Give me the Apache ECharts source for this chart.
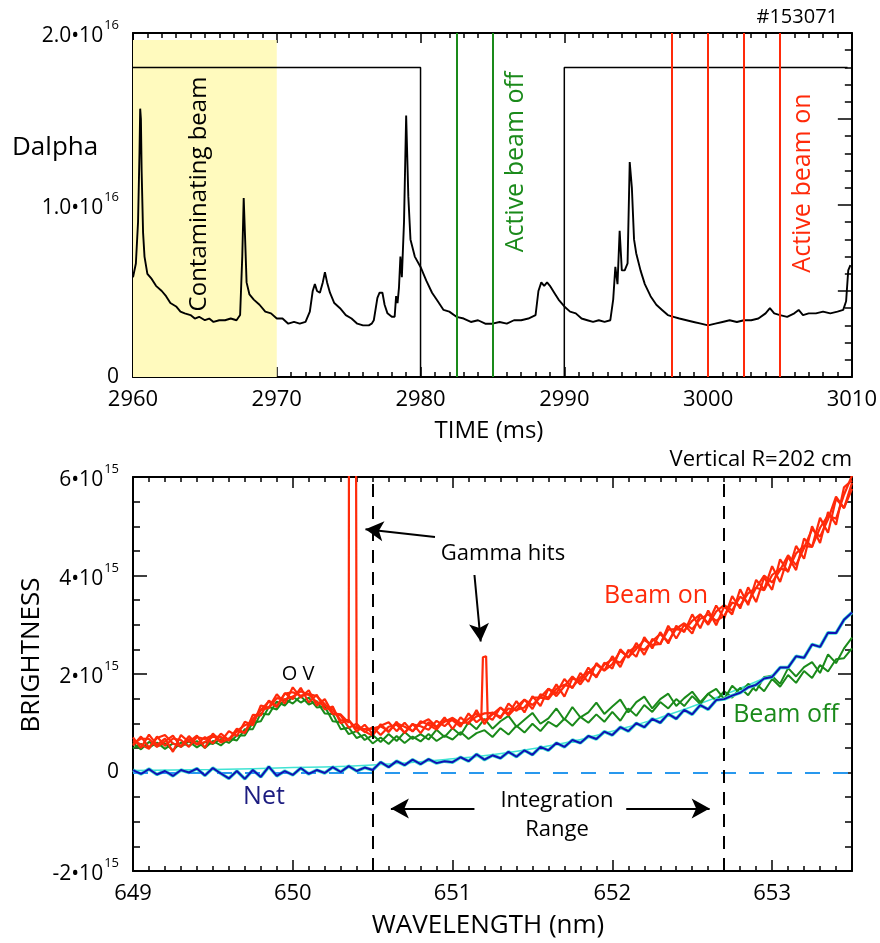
<!DOCTYPE html>
<html>
<head>
<meta charset="utf-8">
<script src="https://cdn.jsdelivr.net/npm/echarts@6/dist/echarts.min.js"></script>
<style>
html, body { margin: 0; padding: 0; background: #fff; }
#chart { width: 880px; height: 943px; }
</style>
</head>
<body>
<div id="chart"></div>
<script>
// Shot #153071: D-alpha time trace with beam timing (top) and
// beam-on / beam-off spectra around the O V line (bottom).

// ---------- top panel: D-alpha (units of 1e16) ----------
const TIME_MS = [
  2960.0, 2960.2, 2960.35, 2960.45, 2960.5, 2960.55, 2960.6, 2960.7, 2960.8, 2961.0,
  2961.3, 2961.6, 2962.0, 2962.3, 2962.6, 2963.0, 2963.3, 2963.6, 2964.0, 2964.3,
  2964.6, 2965.0, 2965.3, 2965.6, 2966.0, 2966.4, 2966.8, 2967.2, 2967.45, 2967.6,
  2967.7, 2967.8, 2967.9, 2968.1, 2968.4, 2968.8, 2969.2, 2969.6, 2970.0, 2970.4,
  2970.8, 2971.2, 2971.6, 2972.0, 2972.3, 2972.5, 2972.65, 2972.8, 2973.0, 2973.2,
  2973.35, 2973.5, 2973.7, 2974.0, 2974.4, 2974.8, 2975.2, 2975.6, 2976.0, 2976.4,
  2976.6, 2976.75, 2976.85, 2977.0, 2977.15, 2977.35, 2977.5, 2977.7, 2978.0, 2978.2,
  2978.3, 2978.4, 2978.5, 2978.6, 2978.7, 2978.85, 2979.0, 2979.15, 2979.3, 2979.6,
  2980.0, 2980.4, 2980.8, 2981.2, 2981.6, 2982.0, 2982.5, 2983.0, 2983.5, 2984.0,
  2984.5, 2985.0, 2985.5, 2986.0, 2986.5, 2987.0, 2987.5, 2988.0, 2988.2, 2988.4,
  2988.6, 2988.8, 2989.0, 2989.3, 2989.6, 2990.0, 2990.4, 2990.8, 2991.2, 2991.6,
  2992.0, 2992.4, 2992.8, 2993.2, 2993.4, 2993.55, 2993.7, 2993.85, 2994.0, 2994.2,
  2994.4, 2994.55, 2994.7, 2994.85, 2995.0, 2995.3, 2995.6, 2996.0, 2996.4, 2996.8,
  2997.2, 2997.6, 2998.0, 2998.5, 2999.0, 2999.5, 3000.0, 3000.5, 3001.0, 3001.5,
  3002.0, 3002.5, 3003.0, 3003.5, 3004.0, 3004.3, 3004.6, 3005.0, 3005.5, 3006.0,
  3006.3, 3006.6, 3007.0, 3007.5, 3008.0, 3008.5, 3009.0, 3009.4, 3009.6, 3009.75,
  3009.9
];
const DALPHA = [
  0.58, 0.66, 0.90, 1.30, 1.56, 1.50, 1.20, 0.84, 0.70, 0.60,
  0.57, 0.53, 0.50, 0.47, 0.43, 0.41, 0.38, 0.37, 0.36, 0.34,
  0.35, 0.33, 0.34, 0.32, 0.33, 0.33, 0.34, 0.33, 0.36, 0.70,
  1.04, 0.80, 0.55, 0.48, 0.45, 0.42, 0.38, 0.37, 0.34, 0.34,
  0.31, 0.32, 0.31, 0.32, 0.38, 0.50, 0.54, 0.50, 0.49, 0.55,
  0.61, 0.55, 0.49, 0.43, 0.40, 0.36, 0.34, 0.31, 0.30, 0.30,
  0.31, 0.33, 0.32, 0.46, 0.49, 0.49, 0.42, 0.37, 0.35, 0.35,
  0.47, 0.43, 0.52, 0.70, 0.58, 0.90, 1.52, 1.05, 0.80, 0.70,
  0.64, 0.56, 0.49, 0.44, 0.39, 0.38, 0.35, 0.34, 0.32, 0.33,
  0.31, 0.31, 0.32, 0.31, 0.33, 0.33, 0.34, 0.36, 0.50, 0.55,
  0.53, 0.55, 0.53, 0.49, 0.45, 0.41, 0.38, 0.37, 0.34, 0.33,
  0.32, 0.33, 0.32, 0.33, 0.45, 0.64, 0.54, 0.85, 0.62, 0.62,
  0.66, 1.25, 1.10, 0.80, 0.72, 0.62, 0.54, 0.47, 0.42, 0.39,
  0.36, 0.35, 0.34, 0.33, 0.32, 0.31, 0.30, 0.31, 0.32, 0.33,
  0.32, 0.33, 0.33, 0.34, 0.37, 0.40, 0.37, 0.36, 0.35, 0.37,
  0.39, 0.36, 0.37, 0.37, 0.38, 0.37, 0.38, 0.39, 0.44, 0.62,
  0.65
];
// neutral-beam timing (high = beam on)
const BEAM_T = [2960, 2980, 2980, 2990, 2990, 3009.7];
const BEAM_LEVEL = [1.8, 1.8, 0, 0, 1.8, 1.8];
const BEAM_OFF_TIMES = [2982.5, 2985];
const BEAM_ON_TIMES = [2997.5, 3000, 3002.5, 3005];
const CONTAM_WINDOW = [2960, 2970];
const CONTAM_TOP = 1.96;
const TOP_Y_LABEL_VALUES = [0, 1, 2];
const TOP_Y_LABELS = ['0', '1.0•10^16', '2.0•10^16'];

// ---------- bottom panel: spectra (units of 1e15) ----------
const WAVELENGTH = [
  649.00, 649.05, 649.10, 649.15, 649.20, 649.25, 649.30, 649.35, 649.40, 649.45,
  649.50, 649.55, 649.60, 649.65, 649.70, 649.75, 649.80, 649.85, 649.90, 649.95,
  650.00, 650.05, 650.10, 650.15, 650.20, 650.25, 650.30, 650.35, 650.40, 650.45,
  650.50, 650.55, 650.60, 650.65, 650.70, 650.75, 650.80, 650.85, 650.90, 650.95,
  651.00, 651.05, 651.10, 651.15, 651.20, 651.25, 651.30, 651.35, 651.40, 651.45,
  651.50, 651.55, 651.60, 651.65, 651.70, 651.75, 651.80, 651.85, 651.90, 651.95,
  652.00, 652.05, 652.10, 652.15, 652.20, 652.25, 652.30, 652.35, 652.40, 652.45,
  652.50, 652.55, 652.60, 652.65, 652.70, 652.75, 652.80, 652.85, 652.90, 652.95,
  653.00, 653.05, 653.10, 653.15, 653.20, 653.25, 653.30, 653.35, 653.40, 653.45,
  653.50
];
const BEAM_ON_1 = [
  0.71, 0.50, 0.77, 0.56, 0.69, 0.42, 0.76, 0.62, 0.75, 0.50,
  0.79, 0.63, 0.84, 0.74, 1.03, 0.96, 1.36, 1.32, 1.59, 1.40,
  1.73, 1.52, 1.67, 1.36, 1.49, 1.20, 1.18, 1.01, 0.93, 0.83,
  0.75, 0.98, 0.82, 1.03, 0.80, 0.99, 0.80, 1.02, 0.92, 1.12,
  0.88, 1.12, 0.98, 1.27, 0.98, 1.22, 1.10, 1.40, 1.25, 1.48,
  1.29, 1.59, 1.52, 1.79, 1.54, 1.91, 1.85, 2.13, 1.93, 2.23,
  2.11, 2.50, 2.33, 2.63, 2.39, 2.71, 2.60, 2.98, 2.72, 3.00,
  2.82, 3.21, 3.03, 3.39, 3.13, 3.58, 3.33, 3.76, 3.46, 3.96,
  3.71, 4.33, 4.07, 4.60, 4.34, 5.00, 4.66, 5.29, 5.03, 5.79,
  5.93
];
// gamma hit recorded in the first beam-on frame
const GAMMA_HIT_1_WL = [650.354, 650.39];
const GAMMA_HIT_1 = [15.0, 15.0];
const BEAM_ON_2 = [
  0.55, 0.73, 0.51, 0.70, 0.76, 0.59, 0.53, 0.74, 0.57, 0.72,
  0.59, 0.79, 0.66, 0.89, 0.80, 1.17, 1.16, 1.46, 1.35, 1.61,
  1.49, 1.72, 1.42, 1.58, 1.28, 1.34, 1.00, 1.07, 0.83, 0.97,
  0.78, 0.95, 1.02, 0.84, 1.01, 0.83, 1.04, 0.97, 0.87, 1.06,
  1.06, 0.93, 1.20, 1.02, 2.38, 1.07, 1.32, 1.19, 1.45, 1.22,
  1.55, 1.35, 1.70, 1.61, 1.90, 1.71, 2.02, 1.84, 2.22, 2.07,
  2.36, 2.14, 2.49, 2.35, 2.75, 2.52, 2.85, 2.62, 2.98, 2.85,
  3.21, 2.93, 3.29, 2.99, 3.37, 3.21, 3.72, 3.40, 3.91, 3.72,
  4.19, 3.87, 4.38, 4.11, 4.75, 4.58, 5.17, 4.87, 5.56, 5.37,
  5.76
];
// gamma hit recorded in the second beam-on frame
const GAMMA_HIT_2_WL = [651.18, 651.19, 651.21, 651.22];
const GAMMA_HIT_2 = [1.10, 2.34, 2.36, 1.12];
const BEAM_ON_3 = [
  0.65, 0.57, 0.48, 0.73, 0.54, 0.69, 0.66, 0.52, 0.72, 0.68,
  0.76, 0.61, 0.68, 0.84, 0.96, 1.02, 1.27, 1.44, 1.33, 1.60,
  1.63, 1.56, 1.59, 1.55, 1.39, 1.19, 1.16, 0.91, 0.99, 0.82,
  0.92, 0.76, 0.93, 0.97, 0.81, 0.98, 0.94, 0.87, 1.05, 0.94,
  1.09, 0.97, 1.09, 1.20, 1.05, 1.18, 1.32, 1.16, 1.33, 1.48,
  1.37, 1.53, 1.70, 1.55, 1.75, 1.95, 1.79, 2.02, 2.19, 2.07,
  2.20, 2.47, 2.34, 2.51, 2.69, 2.59, 2.61, 2.90, 2.91, 2.88,
  3.08, 3.21, 3.00, 3.27, 3.40, 3.29, 3.57, 3.45, 3.75, 4.00,
  3.86, 4.11, 4.41, 4.21, 4.56, 4.94, 4.79, 5.14, 5.60, 5.37,
  5.88
];
const BEAM_ON_4 = [
  0.58, 0.69, 0.68, 0.52, 0.63, 0.75, 0.52, 0.68, 0.57, 0.62,
  0.73, 0.72, 0.65, 0.84, 0.81, 1.08, 1.27, 1.31, 1.51, 1.48,
  1.54, 1.65, 1.58, 1.43, 1.36, 1.28, 1.06, 1.06, 0.89, 0.88,
  0.89, 0.94, 0.84, 1.00, 0.93, 0.84, 1.00, 1.08, 0.93, 1.03,
  1.11, 1.00, 1.02, 1.14, 1.20, 1.21, 1.13, 1.30, 1.27, 1.32,
  1.52, 1.52, 1.49, 1.70, 1.78, 1.73, 1.93, 2.04, 1.96, 2.19,
  2.30, 2.23, 2.45, 2.56, 2.49, 2.67, 2.81, 2.66, 2.92, 3.03,
  2.91, 3.12, 3.21, 3.08, 3.18, 3.45, 3.39, 3.64, 3.75, 3.70,
  4.01, 4.14, 4.10, 4.45, 4.60, 4.58, 4.97, 5.22, 5.15, 5.64,
  6.03
];
const BEAM_OFF_1 = [
  0.60, 0.47, 0.62, 0.53, 0.59, 0.45, 0.61, 0.54, 0.64, 0.50,
  0.64, 0.55, 0.69, 0.65, 0.88, 0.88, 1.20, 1.18, 1.44, 1.36,
  1.54, 1.42, 1.52, 1.32, 1.34, 1.04, 1.02, 0.78, 0.84, 0.66,
  0.76, 0.62, 0.78, 0.64, 0.82, 0.68, 0.78, 0.67, 0.87, 0.72,
  0.90, 0.76, 1.02, 0.88, 1.09, 0.89, 1.04, 1.15, 0.93, 1.07,
  1.21, 0.99, 1.10, 1.30, 1.07, 1.33, 1.12, 1.22, 1.42, 1.19,
  1.34, 1.48, 1.22, 1.43, 1.54, 1.30, 1.49, 1.60, 1.35, 1.51,
  1.64, 1.43, 1.60, 1.70, 1.49, 1.76, 1.61, 1.80, 1.66, 1.94,
  1.96, 1.80, 2.12, 1.95, 2.14, 2.24, 2.02, 2.40, 2.22, 2.52,
  2.74
];
const BEAM_OFF_2 = [
  0.49, 0.58, 0.50, 0.61, 0.48, 0.59, 0.52, 0.63, 0.51, 0.62,
  0.58, 0.68, 0.60, 0.75, 0.75, 1.01, 1.04, 1.33, 1.28, 1.49,
  1.40, 1.55, 1.38, 1.45, 1.20, 1.19, 0.88, 0.91, 0.70, 0.77,
  0.59, 0.71, 0.58, 0.74, 0.60, 0.73, 0.63, 0.78, 0.64, 0.75,
  0.67, 0.82, 0.68, 0.80, 0.86, 0.72, 0.90, 0.77, 0.95, 0.81,
  0.99, 0.84, 1.03, 0.93, 1.09, 0.95, 1.13, 1.01, 1.18, 1.03,
  1.23, 1.05, 1.30, 1.15, 1.37, 1.23, 1.43, 1.30, 1.49, 1.35,
  1.55, 1.39, 1.60, 1.46, 1.65, 1.52, 1.72, 1.57, 1.80, 1.65,
  1.90, 1.74, 1.98, 1.82, 2.06, 1.92, 2.18, 2.05, 2.30, 2.32,
  2.52
];
const NET = [
  0.05, -0.03, 0.07, -0.04, 0.03, -0.07, 0.05, 0.00, 0.08, -0.06,
  0.09, -0.02, -0.12, 0.03, -0.13, 0.05, -0.09, 0.12, -0.07, 0.03,
  -0.05, 0.09, -0.03, 0.05, -0.01, 0.11, 0.01, 0.13, 0.03, 0.10,
  0.05, 0.21, 0.11, 0.23, 0.15, 0.26, 0.17, 0.27, 0.19, 0.23,
  0.21, 0.31, 0.23, 0.37, 0.26, 0.35, 0.29, 0.42, 0.32, 0.45,
  0.36, 0.52, 0.45, 0.60, 0.52, 0.66, 0.60, 0.74, 0.68, 0.83,
  0.76, 0.92, 0.84, 1.00, 0.92, 1.09, 1.01, 1.19, 1.09, 1.27,
  1.18, 1.37, 1.28, 1.47, 1.49, 1.56, 1.62, 1.73, 1.78, 1.91,
  1.94, 2.13, 2.13, 2.36, 2.33, 2.60, 2.55, 2.84, 2.83, 3.10,
  3.25
];
// smooth background fit under the net signal
const FIT_WL = [649.0, 649.5, 650.0, 650.5, 651.0, 651.5, 652.0, 652.5, 653.0];
const FIT = [0.04, 0.06, 0.10, 0.15, 0.28, 0.48, 0.84, 1.34, 1.98];
const INTEGRATION_RANGE = [650.5, 652.7];
const BOTTOM_Y_LABEL_VALUES = [-2, 0, 2, 4, 6];
const BOTTOM_Y_LABELS = ['-2•10^15', '0', '2•10^15', '4•10^15', '6•10^15'];

// annotation arrows, [wavelength, brightness] tail -> head
const ARROWS = [
  [[650.89, 4.78], [650.455, 4.94]],
  [[651.137, 4.01], [651.176, 2.66]],
  [[651.137, -0.73], [650.614, -0.73]],
  [[652.087, -0.73], [652.609, -0.73]]
];

// ---------- styling ----------
const FONT = 'Open Sans';
const RED = '#ff2a0a';
const GREEN = '#1a8a1a';
const BLUE = '#1010b4';
const NAVY = '#1c1c80';
const CYAN = '#3fe3d3';
const ZERO_BLUE = '#2898ee';
const YELLOW = '#fffabe';

const pairs = (xs, ys) => xs.map((x, i) => [x, ys[i]]);
const merged = (a, b) => a.concat(b).sort((p, q) => p[0] - q[0]);

function richLabel(text) {
  const i = text.indexOf('^');
  if (i < 0) return '{z|' + text + '}';
  return '{b|' + text.slice(0, i) + '}{s|' + text.slice(i + 1) + '}';
}
const labelRich = {
  b: { fontSize: 21, fontFamily: FONT, color: '#000', padding: [7, 0, 0, 0], verticalAlign: 'bottom' },
  s: { fontSize: 13, fontFamily: FONT, color: '#000', verticalAlign: 'top', padding: [0, 0, 0, 1] },
  z: { fontSize: 21, fontFamily: FONT, color: '#000' }
};
function labelFor(values, labels) {
  return function (v) {
    for (let k = 0; k < values.length; k++) {
      if (Math.abs(v - values[k]) < 1e-9) return richLabel(labels[k]);
    }
    return '';
  };
}

const frameLine = { show: true, onZero: false, lineStyle: { color: '#000', width: 2 } };
const noLine = { show: false, onZero: false };
function tick(len) {
  return { show: true, inside: true, length: len, lineStyle: { color: '#000', width: 1.5 } };
}
function minor(n, len) {
  return { show: true, splitNumber: n, length: len, lineStyle: { color: '#000', width: 1.5 } };
}
const off = { show: false };
const plainNumber = v => (Math.abs(v - Math.round(v)) < 1e-9 ? String(Math.round(v)) : '');

const xAxes = [
  // top panel
  { gridIndex: 0, type: 'value', position: 'bottom', min: 2960, max: 3010, interval: 10,
    axisLine: frameLine, axisTick: tick(10), minorTick: minor(10, 5),
    axisLabel: { show: true, color: '#000', fontSize: 22, fontFamily: FONT, margin: 12, formatter: plainNumber },
    splitLine: off },
  { gridIndex: 0, type: 'value', position: 'top', min: 2960, max: 3010, interval: 10,
    axisLine: frameLine, axisTick: tick(10), minorTick: minor(10, 5),
    axisLabel: off, splitLine: off },
  // bottom panel: labelled integer ticks and 0.1 nm minor ticks
  { gridIndex: 1, type: 'value', position: 'bottom', min: 649, max: 653.5, interval: 1,
    axisLine: frameLine, axisTick: tick(11),
    axisLabel: { show: true, color: '#000', fontSize: 22, fontFamily: FONT, margin: 12, formatter: plainNumber },
    splitLine: off },
  { gridIndex: 1, type: 'value', position: 'bottom', min: 649, max: 653.5, interval: 0.1,
    axisLine: noLine, axisTick: tick(5), axisLabel: off, splitLine: off },
  { gridIndex: 1, type: 'value', position: 'top', min: 649, max: 653.5, interval: 1,
    axisLine: frameLine, axisTick: tick(11), axisLabel: off, splitLine: off },
  { gridIndex: 1, type: 'value', position: 'top', min: 649, max: 653.5, interval: 0.1,
    axisLine: noLine, axisTick: tick(5), axisLabel: off, splitLine: off }
];

const yAxes = [
  { gridIndex: 0, type: 'value', position: 'left', min: 0, max: 2, interval: 0.5,
    axisLine: frameLine, axisTick: tick(14), minorTick: minor(5, 7),
    axisLabel: { show: true, margin: 14, formatter: labelFor(TOP_Y_LABEL_VALUES, TOP_Y_LABELS), rich: labelRich },
    splitLine: off },
  { gridIndex: 0, type: 'value', position: 'right', min: 0, max: 2, interval: 0.5,
    axisLine: frameLine, axisTick: tick(14), minorTick: minor(5, 7),
    axisLabel: off, splitLine: off },
  { gridIndex: 1, type: 'value', position: 'left', min: -2, max: 6, interval: 2,
    axisLine: frameLine, axisTick: tick(14), minorTick: minor(4, 7),
    axisLabel: { show: true, margin: 14, formatter: labelFor(BOTTOM_Y_LABEL_VALUES, BOTTOM_Y_LABELS), rich: labelRich },
    splitLine: off },
  { gridIndex: 1, type: 'value', position: 'right', min: -2, max: 6, interval: 2,
    axisLine: frameLine, axisTick: tick(14), minorTick: minor(4, 7),
    axisLabel: off, splitLine: off }
];

function spectrum(name, data, color, width, z) {
  return {
    name, type: 'line', xAxisIndex: 2, yAxisIndex: 2, z,
    data, showSymbol: false, symbol: 'none',
    lineStyle: { color, width }, clip: true, silent: true
  };
}

const series = [
  // top: contaminating-beam window
  { type: 'line', xAxisIndex: 0, yAxisIndex: 0, data: [], z: 1, silent: true,
    markArea: { silent: true, label: off, itemStyle: { color: YELLOW, opacity: 1 },
      data: [[{ coord: [CONTAM_WINDOW[0], 0] }, { coord: [CONTAM_WINDOW[1], CONTAM_TOP] }]] } },
  // top: beam timing
  { type: 'line', xAxisIndex: 0, yAxisIndex: 0, z: 2, data: pairs(BEAM_T, BEAM_LEVEL),
    showSymbol: false, symbol: 'none', lineStyle: { color: '#000', width: 1.5 }, silent: true },
  // top: D-alpha
  { type: 'line', xAxisIndex: 0, yAxisIndex: 0, z: 3, data: pairs(TIME_MS, DALPHA),
    showSymbol: false, symbol: 'none', lineStyle: { color: '#000', width: 1.9 }, silent: true,
    markLine: { silent: true, symbol: ['none', 'none'], label: off,
      data: BEAM_OFF_TIMES.map(t => ({ xAxis: t, lineStyle: { color: GREEN, width: 2, type: 'solid' } }))
        .concat(BEAM_ON_TIMES.map(t => ({ xAxis: t, lineStyle: { color: RED, width: 2, type: 'solid' } }))) } },

  // bottom: background fit + reference lines
  { type: 'line', xAxisIndex: 2, yAxisIndex: 2, z: 1, data: pairs(FIT_WL, FIT), smooth: true,
    showSymbol: false, symbol: 'none', lineStyle: { color: CYAN, width: 1.5 }, silent: true,
    markLine: { silent: true, symbol: ['none', 'none'], label: off,
      data: [
        { yAxis: 0, lineStyle: { color: ZERO_BLUE, width: 2, type: [15, 13] } },
        { xAxis: INTEGRATION_RANGE[0], lineStyle: { color: '#000', width: 2, type: [13, 9] } },
        { xAxis: INTEGRATION_RANGE[1], lineStyle: { color: '#000', width: 2, type: [13, 9] } }
      ] } },
  spectrum('Beam off 1', pairs(WAVELENGTH, BEAM_OFF_1), GREEN, 2, 2),
  spectrum('Beam off 2', pairs(WAVELENGTH, BEAM_OFF_2), GREEN, 2, 2),
  spectrum('Beam on 1', merged(pairs(WAVELENGTH, BEAM_ON_1), pairs(GAMMA_HIT_1_WL, GAMMA_HIT_1)), RED, 2.2, 3),
  spectrum('Beam on 2', merged(pairs(WAVELENGTH, BEAM_ON_2), pairs(GAMMA_HIT_2_WL, GAMMA_HIT_2)), RED, 2.2, 3),
  spectrum('Beam on 3', pairs(WAVELENGTH, BEAM_ON_3), RED, 2.2, 3),
  spectrum('Beam on 4', pairs(WAVELENGTH, BEAM_ON_4), RED, 2.2, 3),
  spectrum('Net halo', pairs(WAVELENGTH, NET), CYAN, 3.5, 4),
  Object.assign(spectrum('Net', pairs(WAVELENGTH, NET), BLUE, 2, 5), {
    markLine: { silent: true, symbol: ['none', 'arrow'], symbolSize: [15, 18], label: off,
      lineStyle: { color: '#000', width: 2, type: 'solid' },
      data: ARROWS.map(a => [{ coord: a[0] }, { coord: a[1] }]) }
  })
];

function txt(text, x, y, size, opts) {
  opts = opts || {};
  return {
    type: 'text', x, y, rotation: opts.rot ? Math.PI / 2 : 0, z: 100,
    style: {
      text, fill: opts.color || '#000',
      font: size + 'px "' + FONT + '"',
      align: opts.align || 'center', verticalAlign: 'middle',
      textAlign: opts.align || 'center', textVerticalAlign: 'middle',
      lineHeight: opts.lineHeight
    }
  };
}

const graphics = [
  txt('#153071', 838, 17, 20, { align: 'right' }),
  txt('Dalpha', 12, 148, 26, { align: 'left' }),
  txt('Contaminating beam', 199, 194, 24, { rot: true }),
  txt('Active beam off', 516, 162, 25, { rot: true, color: GREEN }),
  txt('Active beam on', 803, 183, 25, { rot: true, color: RED }),
  txt('TIME (ms)', 489, 431, 24),
  txt('Vertical R=202 cm', 852, 460, 22, { align: 'right' }),
  txt('BRIGHTNESS', 32, 655, 26, { rot: true }),
  txt('WAVELENGTH (nm)', 488, 926, 26),
  txt('O V', 298, 674, 20),
  txt('Gamma hits', 503, 554, 22),
  txt('Beam on', 656, 596, 25, { color: RED }),
  txt('Beam off', 786, 715, 25, { color: GREEN }),
  txt('Net', 264, 797, 25, { color: NAVY }),
  txt('Integration\nRange', 557, 815, 22, { lineHeight: 29 })
];

const chart = echarts.init(document.getElementById('chart'), null, { renderer: 'canvas' });
chart.setOption({
  animation: false,
  backgroundColor: '#fff',
  textStyle: { fontFamily: FONT },
  grid: [
    { left: 133, top: 33, width: 719, height: 344, containLabel: false },
    { left: 133, top: 477, width: 719, height: 394, containLabel: false }
  ],
  xAxis: xAxes,
  yAxis: yAxes,
  series,
  graphic: { elements: graphics }
});
</script>
</body>
</html>
